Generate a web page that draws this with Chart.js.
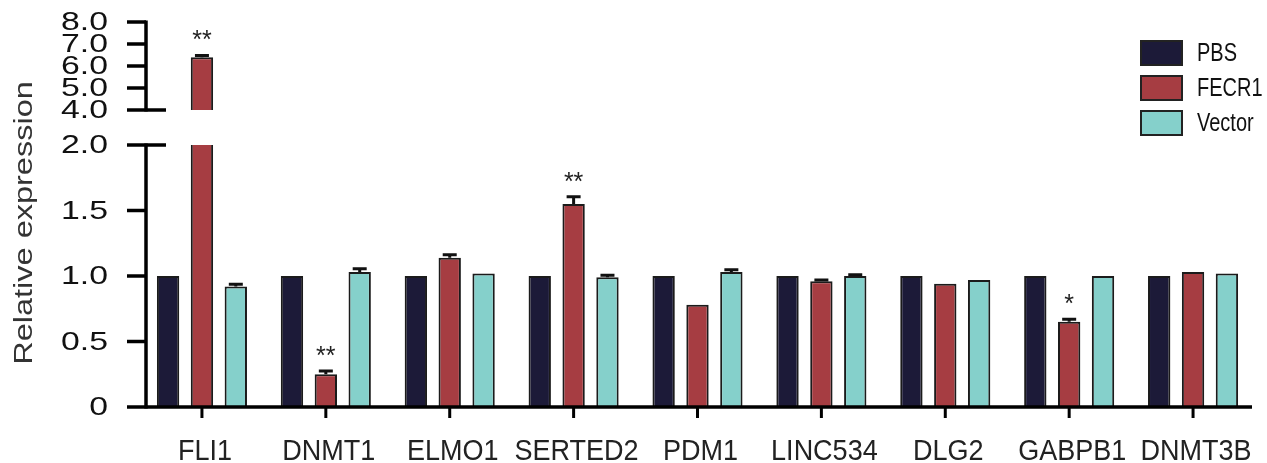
<!DOCTYPE html>
<html>
<head>
<meta charset="utf-8">
<script src="https://cdn.jsdelivr.net/npm/chart.js@4.4.1/dist/chart.umd.min.js"></script>
<style>
  html, body { margin: 0; padding: 0; background: #fff; }
  #wrap { position: relative; width: 1267px; height: 463px; }
  #wrap canvas { position: absolute; left: 0; top: 0; }
</style>
</head>
<body>
<div id="wrap">
  <canvas id="lower" width="1267" height="463"></canvas>
  <canvas id="upper" width="1267" height="463"></canvas>
</div>
<script>
const genes = ["FLI1", "DNMT1", "ELMO1", "SERTED2", "PDM1", "LINC534", "DLG2", "GABPB1", "DNMT3B"];
const pbs = [1, 1, 1, 1, 1, 1, 1, 1, 1];
const fecr1 = [6.4, 0.25, 1.14, 1.55, 0.78, 0.96, 0.94, 0.65, 1.03];
const vector = [0.92, 1.03, 1.02, 0.99, 1.03, 1.0, 0.97, 1.0, 1.02];
const pbsErr = [0, 0, 0, 0, 0, 0, 0, 0, 0];
const fecr1Err = [0.08, 0.025, 0.023, 0.055, 0, 0.01, 0, 0.02, 0];
const vectorErr = [0.017, 0.025, 0, 0.015, 0.018, 0.01, 0, 0, 0];
const fecr1Stars = ["**", "**", "", "**", "", "", "", "*", ""];

const lowerTicks = [0, 0.5, 1, 1.5, 2];
const lowerTickLabels = ["0", "0.5", "1.0", "1.5", "2.0"];
const upperTicks = [4, 5, 6, 7, 8];
const upperTickLabels = ["4.0", "5.0", "6.0", "7.0", "8.0"];

const FONT = "'Liberation Sans', Arial, sans-serif";

function makeDatasets() {
  const common = {
    borderColor: "#1b1b1b",
    borderWidth: 2,
    categoryPercentage: 0.82,
    barPercentage: 0.66,
    clip: 0,
  };
  return [
    { label: "PBS", data: pbs, err: pbsErr, backgroundColor: "#1c1a38", ...common },
    { label: "FECR1", data: fecr1, err: fecr1Err, stars: fecr1Stars, backgroundColor: "#a63d42", ...common },
    { label: "Vector", data: vector, err: vectorErr, backgroundColor: "#85d0cb", ...common },
  ];
}

// text squeezed or stretched along its own direction
function drawText(ctx, text, x, y, sx, align) {
  ctx.save();
  ctx.translate(x, y);
  ctx.scale(sx, 1);
  ctx.textAlign = align;
  ctx.fillText(text, 0, 0);
  ctx.restore();
}

const barExtras = {
  id: "barExtras",
  afterDatasetsDraw(chart) {
    const ctx = chart.ctx;
    const a = chart.chartArea;
    const y = chart.scales.y;
    ctx.save();
    chart.data.datasets.forEach((ds, di) => {
      const meta = chart.getDatasetMeta(di);
      meta.data.forEach((bar, i) => {
        const v = ds.data[i];
        const e = ds.err[i];
        const end = v + e;
        // error bar, clipped to this panel
        if (e > 0) {
          ctx.save();
          ctx.beginPath();
          ctx.rect(a.left, a.top - 4, a.right - a.left, a.bottom - a.top + 4);
          ctx.clip();
          const p0 = y.getPixelForValue(v);
          const p1 = y.getPixelForValue(end);
          ctx.strokeStyle = "#111";
          ctx.lineWidth = 3;
          ctx.beginPath();
          ctx.moveTo(bar.x, p0);
          ctx.lineTo(bar.x, p1);
          ctx.moveTo(bar.x - 7, p1);
          ctx.lineTo(bar.x + 7, p1);
          ctx.stroke();
          ctx.restore();
        }
        if (ds.stars && ds.stars[i] && v >= y.min && v <= y.max) {
          const cy = y.getPixelForValue(end) - 22;
          ctx.fillStyle = "#222";
          ctx.font = "25px " + FONT;
          ctx.textBaseline = "alphabetic";
          drawText(ctx, ds.stars[i], bar.x, cy + 15, 1, "center");
        }
      });
    });
    ctx.restore();
  },
};

const axisDraw = {
  id: "axisDraw",
  afterDraw(chart, args, opts) {
    const ctx = chart.ctx;
    const a = chart.chartArea;
    const y = chart.scales.y;
    const x = chart.scales.x;
    const ax = a.left + 6;
    ctx.save();
    ctx.strokeStyle = "#000";
    ctx.lineWidth = 3.5;
    const top = y.getPixelForValue(opts.ticks[opts.ticks.length - 1]);
    const bot = y.getPixelForValue(opts.ticks[0]);
    ctx.beginPath();
    ctx.moveTo(ax, top - 1.5);
    ctx.lineTo(ax, bot + 1.5);
    ctx.stroke();

    ctx.fillStyle = "#111";
    ctx.font = "26px " + FONT;
    ctx.textBaseline = "middle";
    opts.ticks.forEach((v, i) => {
      const py = y.getPixelForValue(v);
      ctx.beginPath();
      ctx.moveTo(ax - 19, py);
      ctx.lineTo(v === opts.breakAt ? ax + 20 : ax, py);
      ctx.stroke();
      drawText(ctx, opts.labels[i], 108, py + 1, 1.3, "right");
    });

    if (opts.xAxis) {
      ctx.beginPath();
      ctx.moveTo(ax, a.bottom);
      ctx.lineTo(a.right - 3, a.bottom);
      ctx.stroke();
      ctx.lineWidth = 3;
      ctx.fillStyle = "#222";
      ctx.font = "30px " + FONT;
      ctx.textBaseline = "alphabetic";
      genes.forEach((g, i) => {
        const px = x.getPixelForValue(i);
        ctx.beginPath();
        ctx.moveTo(px, a.bottom);
        ctx.lineTo(px, a.bottom + 11);
        ctx.stroke();
        drawText(ctx, g, px + 3, 460, 0.9, "center");
      });

      // axis title spans both panels
      ctx.save();
      ctx.translate(25, 223);
      ctx.rotate(-Math.PI / 2);
      ctx.scale(1.3, 1);
      ctx.fillStyle = "#333";
      ctx.font = "25px " + FONT;
      ctx.textAlign = "center";
      ctx.textBaseline = "middle";
      ctx.fillText("Relative expression", 0, 0);
      ctx.restore();

      // legend
      chart.data.datasets.forEach((ds, i) => {
        const by = 41 + i * 35;
        ctx.fillStyle = ds.backgroundColor;
        ctx.fillRect(1141, by, 41, 24);
        ctx.strokeStyle = "#222";
        ctx.lineWidth = 2;
        ctx.strokeRect(1141, by, 41, 24);
        ctx.fillStyle = "#111";
        ctx.font = "25px " + FONT;
        ctx.textBaseline = "middle";
        drawText(ctx, ds.label, 1197, by + 13, 0.8, "left");
      });
    }
    ctx.restore();
  },
};

function makeChart(id, min, max, padding, axisOpts) {
  return new Chart(document.getElementById(id), {
    type: "bar",
    data: { labels: genes, datasets: makeDatasets() },
    options: {
      responsive: false,
      animation: false,
      events: [],
      layout: { padding: padding },
      plugins: {
        legend: { display: false },
        tooltip: { enabled: false },
        axisDraw: axisOpts,
      },
      scales: {
        x: { display: false },
        y: { display: false, min: min, max: max },
      },
    },
    plugins: [barExtras, axisDraw],
  });
}

makeChart("lower", 0, 2, { left: 140, right: 12, top: 145, bottom: 56 },
  { ticks: lowerTicks, labels: lowerTickLabels, breakAt: 2, xAxis: true });
makeChart("upper", 4, 8, { left: 140, right: 12, top: 22, bottom: 353 },
  { ticks: upperTicks, labels: upperTickLabels, breakAt: 4, xAxis: false });
</script>
</body>
</html>
